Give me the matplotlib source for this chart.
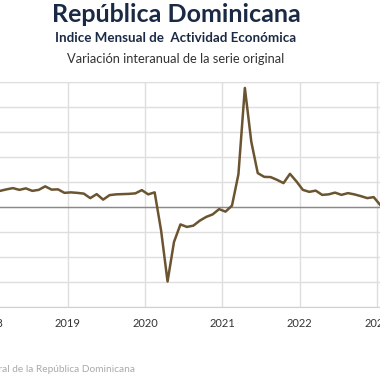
import matplotlib.pyplot as plt
import numpy as np

# monthly year-on-year variation (%), from Jan 2018
start_year = 2018
imae_var = [6.5, 6.4, 7.0, 7.5, 6.8, 7.4, 6.4, 6.8, 8.2, 6.9, 7.0, 5.6,
            5.8, 5.6, 5.3, 3.5, 5.1, 2.9, 4.7, 5.0, 5.1, 5.2, 5.4, 6.7,
            5.0, 5.8, -9.5, -29.8, -14.0, -7.0, -8.0, -7.5, -5.5, -4.0, -3.0, -0.9,
            -1.9, 0.5, 13.0, 47.5, 26.0, 13.5, 12.0, 11.9, 10.8, 9.5, 13.2, 10.2,
            6.8, 6.0, 6.5, 4.8, 5.0, 5.7, 4.8, 5.5, 5.0, 4.3, 3.5, 3.9,
            0.8]
year_ticks = [2018, 2019, 2020, 2021, 2022, 2023]

title = 'República Dominicana'
subtitle = 'Indice Mensual de  Actividad Económica'
subsubtitle = 'Variación interanual de la serie original'
source = 'Fuente: Banco Central de la República Dominicana'

plt.rcParams['font.family'] = ['Lato', 'DejaVu Sans']

x = start_year + (np.arange(len(imae_var)) + 0.5) / 12.0

fig = plt.figure(figsize=(3.8, 3.8), dpi=100)
# axes wider than the figure: the reference is a crop
ax = fig.add_axes([-0.2, 0.192, 1.4, 0.593])

ax.plot(x, imae_var, color='#6b5430', lw=1.8, solid_joinstyle='round', zorder=3)
ax.axhline(0, color='#8a8a8a', lw=1.0, zorder=2)

ax.set_xlim(2017.141, 2024.023)
ax.set_ylim(-40, 50)
ax.set_yticks(np.arange(-40, 51, 10))
ax.set_xticks(year_ticks)
ax.set_xticklabels([str(y) for y in year_ticks])
ax.grid(True, color='#dedede', lw=1.0)
ax.tick_params(axis='both', length=0, labelsize=8, colors='#333333', pad=8)
ax.set_yticklabels([])
for s in ['left', 'right']:
    ax.spines[s].set_visible(False)
ax.spines['top'].set_color('#dedede')
ax.spines['bottom'].set_color('#d0d0d0')

fig.text(176 / 380, 1 - 15 / 380, title, ha='center', va='center',
         fontsize=18, fontweight='bold', color='#1b2a44')
fig.text(176 / 380, 1 - 38 / 380, subtitle, ha='center', va='center',
         fontsize=9.6, fontweight='bold', color='#1b2a44')
fig.text(176 / 380, 1 - 59 / 380, subsubtitle, ha='center', va='center',
         fontsize=9.3, color='#333333')
fig.text(135 / 380, 1 - 369 / 380, source, ha='right', va='center',
         fontsize=7.3, color='#aaaaaa')

fig.savefig('out.png', dpi=100)
